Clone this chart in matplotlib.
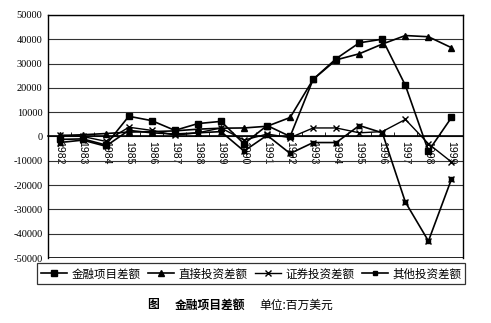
import numpy as np
import matplotlib
matplotlib.use("Agg")
import matplotlib.pyplot as plt

plt.rcParams['font.family'] = ['Noto Sans CJK SC', 'DejaVu Sans']

years = [str(y) for y in range(1982, 2000)]
financial = [-1200, -1000, -3500, 8300, 6500, 2500, 5300, 6200, -3000, 4500,
             0, 23500, 32000, 38500, 40000, 21000, -6000, 7800]
direct = [400, 700, 1200, 1800, 2000, 2300, 3000, 3400, 3500, 4200,
          7800, 23500, 31500, 34000, 38000, 41500, 41000, 36500]
securities = [500, 0, -2000, 3800, 2500, 500, 1500, 3500, -1500, 1000,
              -500, 3500, 3500, 1500, 2000, 7000, -3000, -10500]
other = [-2500, -1500, -4000, 2500, 1500, 1000, 1500, 2000, -6000, 500,
         -7000, -2500, -2500, 4500, 1500, -27000, -43000, -17500]
labels = ["金融项目差额", "直接投资差额", "证券投资差额", "其他投资差额"]

fig = plt.figure(figsize=(4.91, 3.23), dpi=100)
ax = fig.add_axes([0.098, 0.201, 0.845, 0.753])

x = np.arange(len(years))
ax.plot(x, financial, color="black", lw=1.2, marker="s", ms=5, label=labels[0])
ax.plot(x, direct, color="black", lw=1.2, marker="^", ms=5, label=labels[1])
ax.plot(x, securities, color="black", lw=1.0, marker="x", ms=5, mew=1.0, label=labels[2])
ax.plot(x, other, color="black", lw=1.2, marker="s", ms=3.5, label=labels[3])
ax.plot(x, other, color="black", lw=0, marker="x", ms=5, mew=1.0)

ax.set_xlim(-0.5, len(years) - 0.5)
ax.set_ylim(-50000, 50000)
ax.set_yticks(np.arange(-50000, 50001, 10000))
ax.set_yticklabels([str(v) for v in range(-50000, 50001, 10000)],
                   family="Liberation Serif", fontsize=7.5)
ax.yaxis.grid(True, color="#333333", lw=0.8)
ax.set_axisbelow(True)
ax.tick_params(axis="y", length=0, pad=4)

# x axis sits on the zero line
ax.spines["bottom"].set_position(("data", 0))
ax.spines["bottom"].set_linewidth(1.2)
ax.axhline(-50000, color="black", lw=1.2)
for s in ["top", "left", "right"]:
    ax.spines[s].set_linewidth(1.0)
ax.set_xticks(x)
ax.set_xticklabels(years, rotation=-90, family="Liberation Sans", fontsize=7.5)
ax.set_xticks(x[:-1] + 0.5, minor=True)
ax.tick_params(axis="x", which="major", length=0, pad=3)
ax.tick_params(axis="x", which="minor", direction="in", length=3)

leg = fig.legend(loc="center", bbox_to_anchor=(0.512, 0.152), ncol=4,
                 fontsize=8.3, frameon=True, fancybox=False, edgecolor="black",
                 handlelength=2.2, handletextpad=0.4, columnspacing=0.7,
                 borderpad=0.35)
leg.get_frame().set_linewidth(0.9)

fig.text(0.30, 0.056, "图", fontsize=8.5, weight="bold", va="center")
fig.text(0.356, 0.056, "金融项目差额", fontsize=8.5, weight="bold", va="center")
fig.text(0.528, 0.056, "单位:百万美元", fontsize=8.5, va="center")

fig.savefig("out.png", dpi=100)
